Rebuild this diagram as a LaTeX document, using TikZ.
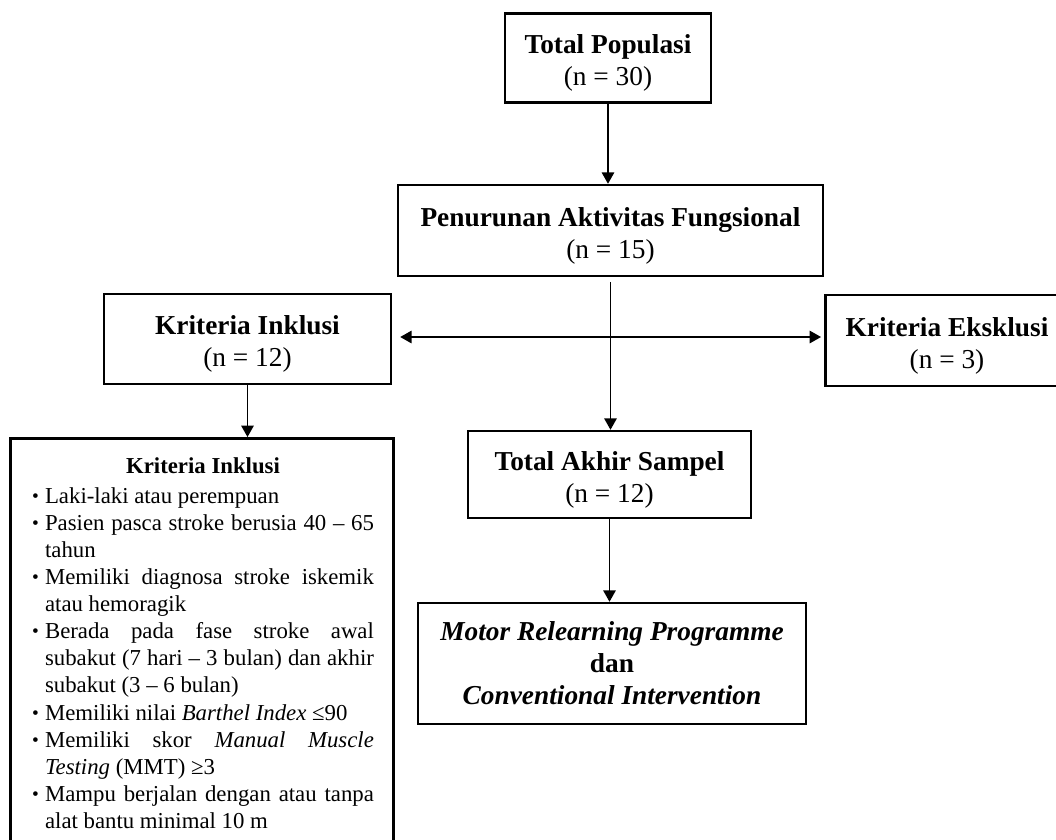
\documentclass[tikz,border=0pt]{standalone}
\usepackage{fontspec}
\setmainfont{Liberation Serif}
\usetikzlibrary{positioning,arrows.meta}

\newcommand{\pxu}{0.4388pt}
\newcommand{\tstrut}{\rule{0pt}{13pt}}
\newcommand{\itm}[1]{\par\hangindent=5.7pt\hangafter=1\noindent
  \makebox[5.7pt][l]{\raisebox{0.1ex}{\fontsize{8.5}{8.5}\selectfont\textbullet}}#1}

\begin{document}
\begin{tikzpicture}[x=\pxu, y=-\pxu,
  box/.style={draw, line width=1.1pt, align=center, inner sep=0pt,
    font=\fontsize{12}{14}\selectfont},
  arr/.style={line width=0.6pt, -{Triangle[length=5pt,width=5.5pt]}}]
\useasboundingbox (0,0) rectangle (1056,839);

\node[box, minimum width=206*\pxu, minimum height=89*\pxu] (pop) at (608, 58)
  {\tstrut\textbf{Total Populasi}\\(n = 30)};
\node[box, minimum width=425*\pxu, minimum height=91*\pxu] (turun) at (610.5, 230.5)
  {\tstrut\textbf{Penurunan Aktivitas Fungsional}\\(n = 15)};
\node[box, minimum width=287*\pxu, minimum height=90*\pxu] (inkl) at (247.5, 339)
  {\tstrut\textbf{Kriteria Inklusi}\\(n = 12)};
\node[box, minimum width=300*\pxu, minimum height=91*\pxu, anchor=west] (ekskl)
  at (824, 340.5) {};
\node[box, draw=none] (eksklt) at (947, 340.5)
  {\tstrut\textbf{Kriteria Eksklusi}\\(n = 3)};
\node[box, minimum width=283*\pxu, minimum height=87*\pxu] (akhir) at (609.5, 474.5)
  {\tstrut\textbf{Total Akhir Sampel}\\(n = 12)};
\node[box, minimum width=388*\pxu, minimum height=121*\pxu] (terapi) at (612, 663.5)
  {\textbf{\textit{Motor Relearning Programme}}\\\textbf{dan}\\
   \textbf{\textit{Conventional Intervention}}};

\node[box, minimum width=383*\pxu, minimum height=420*\pxu, anchor=north west]
  (inkbox) at (9, 437) {};
\node[anchor=north, inner sep=0pt, text width=150pt, align=justify,
  font=\fontsize{10}{11.9}\selectfont] (inklist) at (203, 457) {%
  \hyphenpenalty=10000 \tolerance=10000 \emergencystretch=4pt
  {\centering\textbf{Kriteria Inklusi}\par}\vspace{1.2pt}
  \itm{Laki-laki atau perempuan}
  \itm{Pasien pasca stroke berusia 40 -- 65\linebreak tahun}
  \itm{Memiliki diagnosa stroke iskemik\linebreak atau hemoragik}
  \itm{Berada pada fase stroke awal\linebreak subakut (7 hari -- 3 bulan) dan akhir\linebreak subakut (3 -- 6 bulan)}
  \itm{Memiliki nilai \textit{Barthel Index} ≤90}
  \itm{Memiliki skor \textit{Manual Muscle}\linebreak \textit{Testing} (MMT) ≥3}
  \itm{Mampu berjalan dengan atau tanpa\linebreak alat bantu minimal 10 m}\par};

\coordinate (cross) at (turun.south |- 0, 337);
\draw[arr] (pop) -- (pop |- turun.north);
\draw[arr, shorten <=2pt] (turun.south) -- (turun.south |- akhir.north);
\draw[arr, shorten >=3.5pt] (cross) -- (inkl.east |- cross);
\draw[arr, shorten >=1.3pt] (cross) -- (ekskl.west |- cross);
\draw[arr] (inkl) -- (inkl |- inkbox.north);
\draw[arr] (akhir) -- (akhir |- terapi.north);

\end{tikzpicture}
\end{document}
